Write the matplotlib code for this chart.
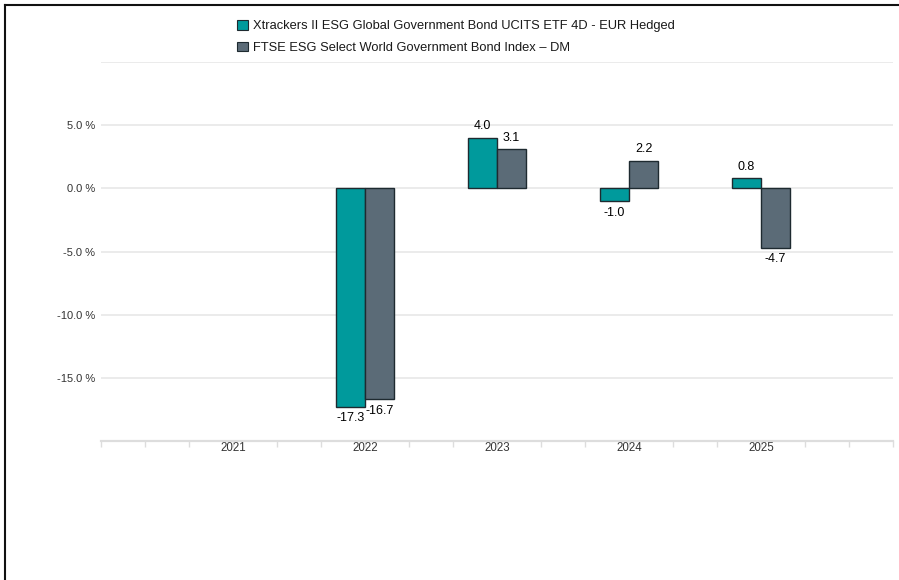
import matplotlib
matplotlib.use("Agg")
import matplotlib.pyplot as plt
from matplotlib.lines import Line2D
from matplotlib.patches import Patch
import numpy as np

plt.rcParams['font.family'] = ['Liberation Sans', 'DejaVu Sans']

years = ["2021", "2022", "2023", "2024", "2025"]
fund_name = "Xtrackers II ESG Global Government Bond UCITS ETF 4D - EUR Hedged"
index_name = "FTSE ESG Select World Government Bond Index \u2013 DM"
fund_values = [np.nan, -17.3, 4.0, -1.0, 0.8]
index_values = [np.nan, -16.7, 3.1, 2.2, -4.7]
y_ticks = [-15, -10, -5, 0, 5]
y_tick_labels = ["-15.0 %", "-10.0 %", "-5.0 %", "0.0 %", "5.0 %"]

teal = "#009a9c"
slate = "#5b6b77"
edge = "#1e2a30"

W, H = 899, 580
fig = plt.figure(figsize=(W / 100, H / 100), dpi=100)
ax = fig.add_axes([101 / W, 1 - 441 / H, (893 - 101) / W, (441 - 62) / H])

x = np.arange(len(years))
bw = 0.22
ax.bar(x - bw / 2, fund_values, width=bw, color=teal, edgecolor=edge, linewidth=1.0, zorder=3)
ax.bar(x + bw / 2, index_values, width=bw, color=slate, edgecolor=edge, linewidth=1.0, zorder=3)

for xs, vals in ((x - bw / 2, fund_values), (x + bw / 2, index_values)):
    for xi, v in zip(xs, vals):
        if np.isnan(v):
            continue
        off = 4 if v >= 0 else -4
        ax.annotate(f"{v:.1f}", (xi, v), xytext=(0, off), textcoords="offset points",
                    ha="center", va="bottom" if v >= 0 else "top",
                    fontsize=9, color="#000000", zorder=4)

ax.set_xlim(-1, 5)
ax.set_ylim(-20, 10)

# grid lines
for gy in [-15, -10, -5, 0, 5, 10]:
    ax.axhline(gy, color="#e6e6e6", linewidth=1.1, zorder=1)

ax.set_yticks(y_ticks)
ax.set_yticklabels(y_tick_labels)
ax.tick_params(axis="y", length=0, pad=4, labelsize=8, labelcolor="#333333")

ax.set_xticks(x)
ax.set_xticklabels(years)
ax.set_xticks(np.arange(-1, 5.001, 1 / 3), minor=True)
ax.tick_params(axis="x", which="both", length=4, width=1, color="#dddddd",
               labelsize=8.3, labelcolor="#333333", pad=-3)

for s in ("top", "right", "left"):
    ax.spines[s].set_visible(False)
ax.spines["bottom"].set_color("#dddddd")
ax.spines["bottom"].set_linewidth(1.6)
ax.spines["bottom"].set_zorder(2)

handles = [Patch(facecolor=teal, edgecolor=edge, linewidth=0.8),
           Patch(facecolor=slate, edgecolor=edge, linewidth=0.8)]
fig.legend(handles, [fund_name, index_name], loc="upper left",
           bbox_to_anchor=(237.5 / W, 1 - 20 / H), frameon=False,
           fontsize=9.3, handlelength=0.78, handleheight=0.78,
           handletextpad=0.45, labelspacing=0.72, borderpad=0, borderaxespad=0,
           labelcolor="#1a1a1a")

# outer frame (left and top)
fig.add_artist(Line2D([4.5 / W, 4.5 / W], [0, 1 - 4.5 / H], color="#111111", linewidth=1.5,
                      transform=fig.transFigure))
fig.add_artist(Line2D([4.5 / W, 1], [1 - 4.5 / H, 1 - 4.5 / H], color="#111111", linewidth=1.5,
                      transform=fig.transFigure))

fig.savefig("out.png", dpi=100, facecolor="white")
